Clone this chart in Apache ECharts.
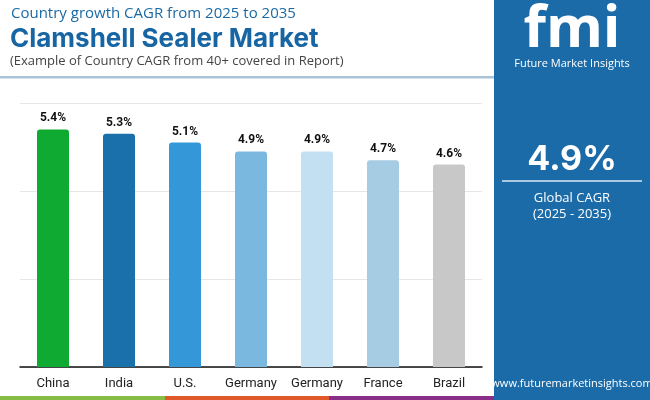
<!DOCTYPE html>
<html><head><meta charset="utf-8">
<script src="https://cdn.jsdelivr.net/npm/echarts@6/dist/echarts.min.js"></script>
<style>html,body{margin:0;padding:0;background:#fff}#c{width:650px;height:400px}</style>
</head><body><div id="c"></div>
<script>
var categories = ['China', 'India', 'U.S.', 'Germany', 'Germany ', 'France', 'Brazil'];
var values = [5.4, 5.3, 5.1, 4.9, 4.9, 4.7, 4.6];
var barColors = ['#0eaa32', '#1a70ab', '#3498d8', '#7ab8e0', '#c3e0f2', '#a6cce3', '#c8c8c8'];
var yTicks = [0, 2, 4, 6];
var globalCagr = '4.9%';

var chart = echarts.init(document.getElementById('c'));
var panelX = 494;
chart.setOption({
  animation: false,
  grid: { left: 20, right: 168, top: 103, bottom: 33 },
  xAxis: {
    type: 'category', data: categories,
    axisLine: { lineStyle: { color: '#111', width: 1.5 } },
    axisTick: { show: false },
    axisLabel: { interval: 0, color: '#222', fontFamily: 'Roboto', fontSize: 13, margin: 10,
      formatter: function (v) { return v.trim(); } }
  },
  yAxis: {
    type: 'value', min: yTicks[0], max: yTicks[yTicks.length - 1], interval: 2,
    axisLabel: { show: false }, axisLine: { show: false }, axisTick: { show: false },
    splitLine: { lineStyle: { color: '#e6e6e6', width: 1 } }
  },
  series: [{
    type: 'bar', barWidth: 32,
    data: values.map(function (v, i) { return { value: v, itemStyle: { color: barColors[i] } }; }),
    itemStyle: { borderRadius: [3, 3, 0, 0] },
    label: { show: true, position: 'top', distance: 5, color: '#111', fontFamily: 'Roboto',
      fontWeight: 'bold', fontSize: 12, formatter: function (p) { return p.value.toFixed(1) + '%'; } }
  }],
  graphic: [
    { type: 'text', left: 11, top: 6, style: { text: 'Country growth CAGR from 2025 to 2035', fill: '#1b6aa5', font: '15px "Open Sans"' } },
    { type: 'text', left: 10, top: 26, style: { text: 'Clamshell Sealer Market', fill: '#1766a3', font: 'bold 26px Inter' } },
    { type: 'text', left: 10, top: 55, style: { text: '(Example of Country CAGR from 40+ covered in Report)', fill: '#444', font: '13px "Open Sans"' } },
    { type: 'rect', shape: { x: 0, y: 76, width: panelX, height: 2.5 }, style: { fill: '#a9c3d6' } },
    { type: 'rect', shape: { x: panelX, y: 0, width: 650 - panelX, height: 400 }, style: { fill: '#1b6ba8' } },
    { type: 'text', x: 572, y: 30, style: { text: 'fmi', fill: '#fff', font: 'bold 58px "Open Sans"', textAlign: 'center', textVerticalAlign: 'middle' } },
    { type: 'text', x: 572, y: 64, style: { text: 'Future Market Insights', fill: '#fff', font: '11px "Open Sans"', textAlign: 'center', textVerticalAlign: 'middle' } },
    { type: 'text', x: 572, y: 160, style: { text: globalCagr, fill: '#fff', font: 'bold 34px Inter', textAlign: 'center', textVerticalAlign: 'middle' } },
    { type: 'rect', shape: { x: 502, y: 180, width: 140, height: 2 }, style: { fill: '#a9c9e3' } },
    { type: 'text', x: 572, y: 198, style: { text: 'Global CAGR', fill: '#fff', font: '13px "Open Sans"', textAlign: 'center', textVerticalAlign: 'middle' } },
    { type: 'text', x: 572, y: 214, style: { text: '(2025 - 2035)', fill: '#fff', font: '13px "Open Sans"', textAlign: 'center', textVerticalAlign: 'middle' } },
    { type: 'text', x: 572, y: 384, style: { text: 'www.futuremarketinsights.com', fill: '#fff', font: '11px "Open Sans"', textAlign: 'center', textVerticalAlign: 'middle' } },
    { type: 'rect', shape: { x: 0, y: 396, width: 165, height: 4 }, style: { fill: '#87bc45' } },
    { type: 'rect', shape: { x: 165, y: 396, width: 164, height: 4 }, style: { fill: '#e0592a' } },
    { type: 'rect', shape: { x: 329, y: 396, width: panelX - 329, height: 4 }, style: { fill: '#8a2f88' } }
  ]
});
</script></body></html>
